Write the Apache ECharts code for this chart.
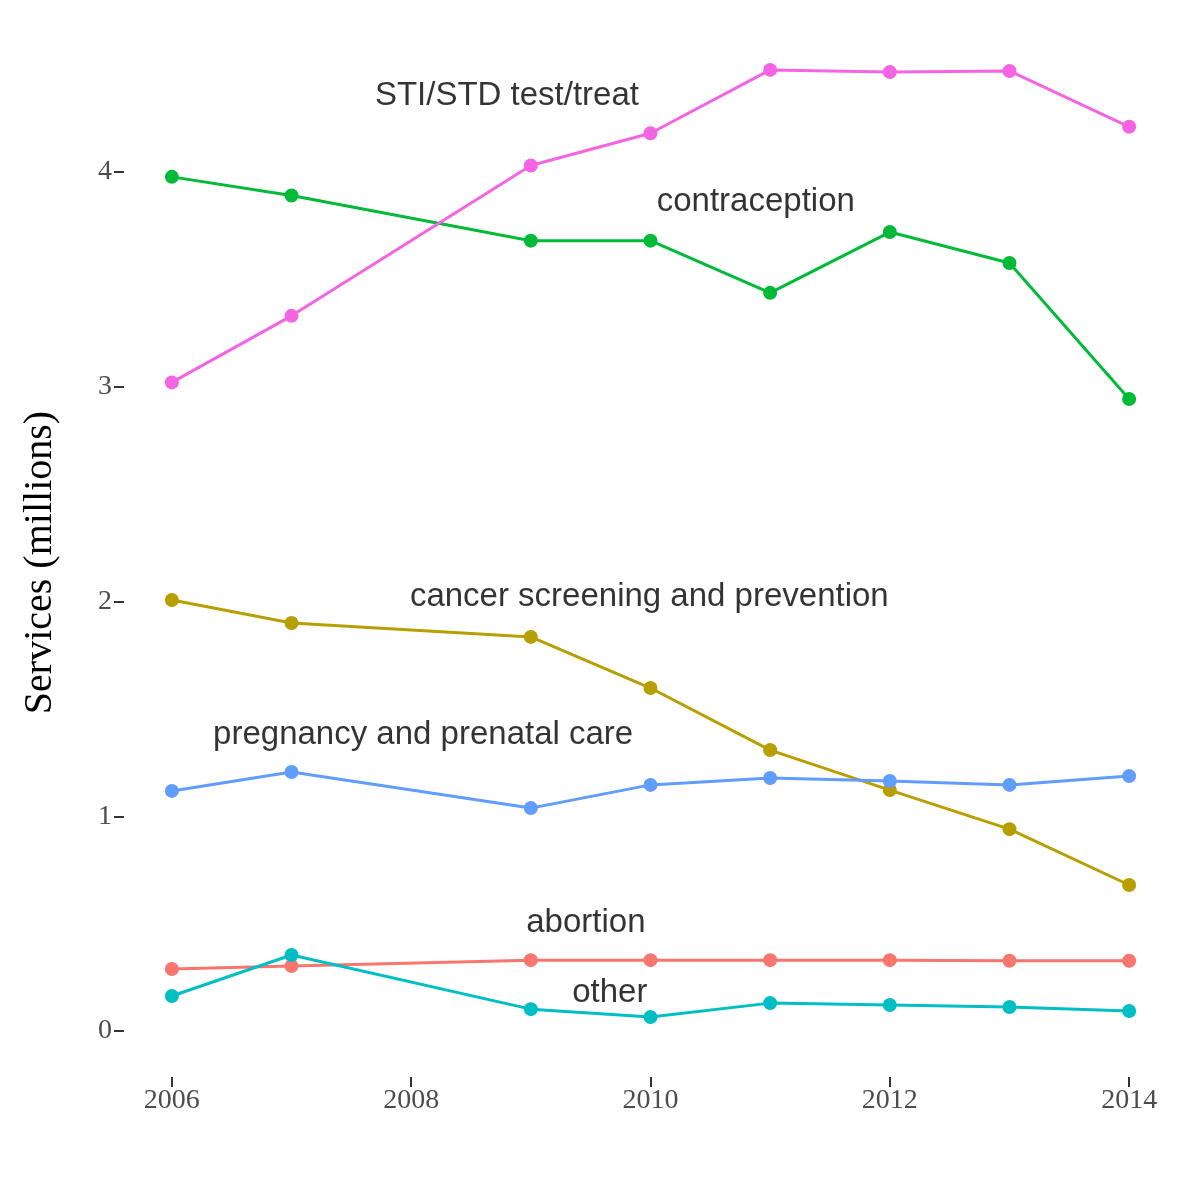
<!DOCTYPE html>
<html><head><meta charset="utf-8">
<script src="https://cdn.jsdelivr.net/npm/echarts@6/dist/echarts.min.js"></script>
<style>html,body{margin:0;padding:0;background:#fff}#c{width:1200px;height:1200px}</style>
</head><body><div id="c"></div>
<script>
const years = [2006, 2007, 2009, 2010, 2011, 2012, 2013, 2014];
const sti = [3.02, 3.33, 4.03, 4.18, 4.475, 4.465, 4.47, 4.21];
const contraception = [3.977, 3.89, 3.68, 3.68, 3.437, 3.72, 3.576, 2.943];
const cancer = [2.007, 1.90, 1.835, 1.597, 1.308, 1.122, 0.94, 0.68];
const pregnancy = [1.118, 1.206, 1.038, 1.146, 1.178, 1.164, 1.146, 1.187];
const abortion = [0.289, 0.303, 0.33, 0.33, 0.33, 0.33, 0.327, 0.327];
const other = [0.163, 0.354, 0.102, 0.065, 0.13, 0.121, 0.112, 0.093];
const xTicks = [2006, 2008, 2010, 2012, 2014];
const yTicks = [0, 1, 2, 3, 4];
const labelNames = ['STI/STD test/treat','contraception','cancer screening and prevention','pregnancy and prenatal care','abortion','other'];
const labelPos = [[2008.8,4.355],[2010.88,3.86],[2009.99,2.02],[2008.1,1.378],[2009.46,0.503],[2009.66,0.177]];

const seriesDefs = [
  ['abortion', abortion, '#F8766D'],
  ['cancer', cancer, '#B79F00'],
  ['contraception', contraception, '#00BA38'],
  ['other', other, '#00BFC4'],
  ['pregnancy', pregnancy, '#619CFF'],
  ['sti', sti, '#F564E3']
];
const series = seriesDefs.map(([n, v, c]) => ({
  name: n, type: 'line', data: years.map((y, i) => [y, v[i]]),
  symbol: 'circle', symbolSize: 14, lineStyle: {width: 3, color: c},
  itemStyle: {color: c}, animation: false
}));
series.push({
  type: 'scatter', symbolSize: 0, animation: false,
  data: labelPos.map((p, i) => ({value: p, name: labelNames[i]})),
  label: {show: true, position: 'inside', formatter: p => p.name,
    fontFamily: 'Liberation Sans', fontSize: 33, color: '#000'}
});
const chart = echarts.init(document.getElementById('c'));
chart.setOption({
  backgroundColor: '#fff',
  grid: {left: 124, right: 23, top: 48, bottom: 123},
  xAxis: {type: 'value', min: 2005.6, max: 2014.4,
    axisLine: {show: false, onZero: false}, splitLine: {show: false},
    axisTick: {show: true, length: 10, lineStyle: {color: '#333', width: 2}, customValues: xTicks},
    axisLabel: {customValues: xTicks, formatter: v => String(v), fontFamily: 'Liberation Serif', fontSize: 28, color: '#4d4d4d', margin: 10}},
  yAxis: {type: 'value', min: -0.214, max: 4.577,
    name: 'Services (millions)', nameLocation: 'middle', nameGap: 64,
    nameTextStyle: {fontFamily: 'Liberation Serif', fontSize: 40, color: '#000'},
    axisLine: {show: false, onZero: false}, splitLine: {show: false},
    axisTick: {show: true, length: 10, lineStyle: {color: '#333', width: 2}, customValues: yTicks},
    axisLabel: {customValues: yTicks, fontFamily: 'Liberation Serif', fontSize: 28, color: '#4d4d4d', margin: 12}},
  series: series
});
</script></body></html>
